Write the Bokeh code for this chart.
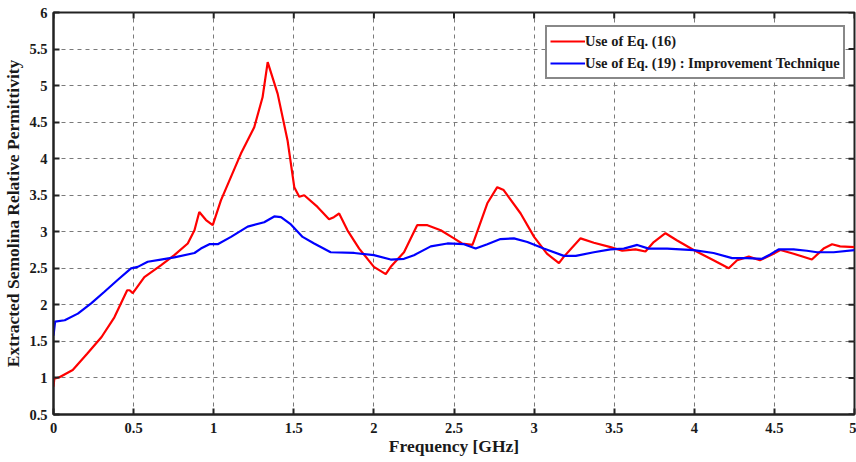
import math
from bokeh.plotting import figure
from bokeh.models import Range1d, FixedTicker, CustomJSTickFormatter, Legend, LegendItem
from bokeh.embed import file_html
from bokeh.resources import INLINE

# ---- data ----
red_x = [0, 0.005, 0.037, 0.12, 0.21, 0.30, 0.38, 0.46, 0.475, 0.495, 0.567, 0.67, 0.754, 0.838,
         0.88, 0.91, 0.952, 0.994, 1.045, 1.17, 1.253, 1.305, 1.337, 1.399, 1.461, 1.503, 1.534,
         1.565, 1.648, 1.72, 1.75, 1.783, 1.835, 1.908, 2.0, 2.074, 2.105, 2.188, 2.27, 2.334,
         2.417, 2.5, 2.55, 2.615, 2.625, 2.708, 2.77, 2.81, 2.916, 3.0, 3.08, 3.155, 3.186, 3.29,
         3.373, 3.477, 3.55, 3.633, 3.695, 3.747, 3.82, 3.893, 3.996, 4.12, 4.215, 4.267, 4.34,
         4.41, 4.485, 4.537, 4.62, 4.734, 4.807, 4.86, 4.91, 5.0]
red_y = [0.88, 0.99, 1.01, 1.11, 1.33, 1.56, 1.83, 2.2, 2.2, 2.16, 2.38, 2.54, 2.68, 2.84,
         3.02, 3.27, 3.16, 3.09, 3.43, 4.07, 4.43, 4.84, 5.32, 4.89, 4.25, 3.61, 3.48,
         3.5, 3.34, 3.17, 3.2, 3.25, 3.02, 2.77, 2.52, 2.42, 2.52, 2.72, 3.09, 3.09,
         3.02, 2.91, 2.84, 2.82, 2.88, 3.39, 3.61, 3.57, 3.25, 2.93, 2.7, 2.57, 2.66, 2.91,
         2.85, 2.79, 2.74, 2.76, 2.73, 2.86, 2.98, 2.88, 2.75, 2.61, 2.5, 2.61, 2.66,
         2.61, 2.69, 2.75, 2.7, 2.62, 2.77, 2.83, 2.80, 2.79]

blue_x = [0, 0.01, 0.07, 0.152, 0.235, 0.318, 0.4, 0.484, 0.526, 0.588, 0.67, 0.754, 0.88, 0.92,
          0.973, 1.025, 1.108, 1.212, 1.315, 1.378, 1.42, 1.482, 1.555, 1.627, 1.73, 1.877, 2.0,
          2.105, 2.188, 2.25, 2.355, 2.459, 2.562, 2.635, 2.708, 2.79, 2.874, 2.958, 3.06, 3.186,
          3.26, 3.373, 3.477, 3.56, 3.644, 3.715, 3.83, 3.996, 4.12, 4.236, 4.33, 4.423, 4.474,
          4.526, 4.62, 4.703, 4.766, 4.87, 5.0]
blue_y = [1.58, 1.77, 1.79, 1.88, 2.02, 2.18, 2.34, 2.5, 2.52, 2.59, 2.62, 2.65, 2.71, 2.77,
          2.83, 2.83, 2.93, 3.07, 3.13, 3.21, 3.2, 3.1, 2.93, 2.84, 2.72, 2.71, 2.68,
          2.62, 2.63, 2.68, 2.80, 2.84, 2.83, 2.77, 2.83, 2.90, 2.91, 2.86, 2.77, 2.67,
          2.67, 2.72, 2.76, 2.77, 2.82, 2.77, 2.77, 2.75, 2.71, 2.64, 2.64, 2.63, 2.69,
          2.76, 2.76, 2.74, 2.72, 2.72, 2.75]

x_ticks = [0, 0.5, 1, 1.5, 2, 2.5, 3, 3.5, 4, 4.5, 5]
y_ticks = [0.5, 1, 1.5, 2, 2.5, 3, 3.5, 4, 4.5, 5, 5.5, 6]

series_labels = ["Use of Eq. (16)", "Use of Eq. (19) : Improvement Technique"]
x_label = "Frequency [GHz]"
y_label = "Extracted Semolina Relative Permittivity"

FONT = "Liberation Serif"
TXT = "#1a1a1a"
AX = "#222222"
X0, X1, Y0, Y1 = 0, 5, 0.5, 6

p = figure(width=856, height=462, output_backend="svg", toolbar_location=None,
           x_range=Range1d(X0, X1), y_range=Range1d(Y0, Y1),
           min_border_left=52, min_border_right=2, min_border_top=12, min_border_bottom=48)
p.background_fill_color = "white"
p.border_fill_color = "white"
p.outline_line_color = AX
p.outline_line_width = 2

fmt = CustomJSTickFormatter(code="return tick.toString();")

for ax, ticks in ((p.xaxis[0], x_ticks), (p.yaxis[0], y_ticks)):
    ax.ticker = FixedTicker(ticks=ticks)
    ax.formatter = fmt
    ax.axis_line_color = AX
    ax.axis_line_width = 2
    ax.major_tick_in = 6
    ax.major_tick_out = 0
    ax.major_tick_line_color = AX
    ax.major_tick_line_width = 2
    ax.minor_tick_line_color = None
    ax.major_label_text_font = FONT
    ax.major_label_text_font_style = "bold"
    ax.major_label_text_font_size = "14.5px"
    ax.major_label_text_color = TXT
    ax.axis_label_text_font = FONT
    ax.axis_label_text_font_style = "bold"
    ax.axis_label_text_font_size = "17.5px"
    ax.axis_label_text_color = TXT
p.xaxis[0].axis_label = x_label
p.yaxis[0].axis_label = y_label
p.xaxis[0].major_label_standoff = 8
p.xaxis[0].axis_label_standoff = 0
p.yaxis[0].major_label_standoff = 6
p.yaxis[0].axis_label_standoff = 3

# tick marks on the top and right edges of the box (inside, like the reference)
p.ray(x=x_ticks, y=[Y1] * len(x_ticks), length=6, length_units="screen",
      angle=-math.pi / 2, line_color=AX, line_width=2)
p.ray(x=[X1] * len(y_ticks), y=y_ticks, length=6, length_units="screen",
      angle=math.pi, line_color=AX, line_width=2)

for g in (p.xgrid[0], p.ygrid[0]):
    g.grid_line_color = "#7a7a7a"
    g.grid_line_dash = "4 4"
    g.grid_line_width = 1
p.xgrid[0].ticker = FixedTicker(ticks=x_ticks)
p.ygrid[0].ticker = FixedTicker(ticks=y_ticks)

r1 = p.line(red_x, red_y, line_color="#ff0000", line_width=2.2)
r2 = p.line(blue_x, blue_y, line_color="#0000ff", line_width=2.2)

legend = Legend(items=[LegendItem(label=series_labels[0], renderers=[r1]),
                       LegendItem(label=series_labels[1], renderers=[r2])],
                location=(492, 335))
legend.label_text_font = FONT
legend.label_text_font_style = "bold"
legend.label_text_font_size = "14.5px"
legend.label_text_color = TXT
legend.glyph_width = 35
legend.glyph_height = 22
legend.label_height = 22
legend.label_standoff = 0
legend.padding = 3
legend.spacing = 0
legend.margin = 0
legend.border_line_color = "#111111"
legend.border_line_width = 2
legend.background_fill_color = "white"
legend.background_fill_alpha = 1
p.add_layout(legend, "center")

open("out.html", "w").write(file_html(p, INLINE))
